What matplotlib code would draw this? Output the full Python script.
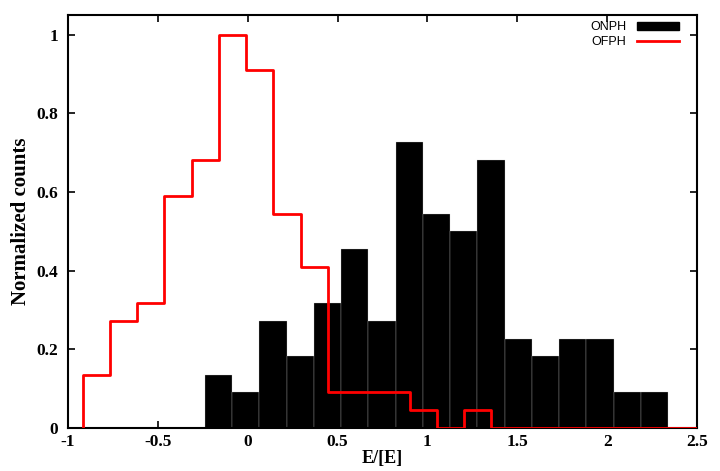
import matplotlib
matplotlib.use("Agg")
import matplotlib.pyplot as plt
import numpy as np
from matplotlib.patches import Patch
from matplotlib.lines import Line2D

# ONPH histogram (filled black bars)
onph_start = -0.238
onph_width = 0.1516
onph_values = [0.136, 0.091, 0.273, 0.182, 0.318, 0.455, 0.273, 0.727, 0.545,
               0.500, 0.682, 0.227, 0.182, 0.227, 0.227, 0.091, 0.091]

# OFPH histogram (red steps)
ofph_start = -0.918
ofph_width = 0.1516
ofph_values = [0.136, 0.273, 0.318, 0.591, 0.682, 1.000, 0.909, 0.545, 0.409,
               0.091, 0.091, 0.091, 0.045, 0.000, 0.045]

xticks = [-1, -0.5, 0, 0.5, 1, 1.5, 2, 2.5]
xticklabels = ["-1", "-0.5", "0", "0.5", "1", "1.5", "2", "2.5"]
yticks = [0, 0.2, 0.4, 0.6, 0.8, 1.0]
yticklabels = ["0", "0.2", "0.4", "0.6", "0.8", "1"]

fig = plt.figure(figsize=(7.2, 4.71), dpi=100)
ax = fig.add_axes([68/720, 1 - 428/471, (697-68)/720, (428-15)/471])

serif = ["Liberation Serif", "DejaVu Serif"]
sans = ["Liberation Sans", "DejaVu Sans"]

on_left = onph_start + onph_width * np.arange(len(onph_values))
ax.bar(on_left, onph_values, width=onph_width, align="edge", color="black",
       edgecolor="#cccccc", linewidth=0.2, zorder=2)

of_edges = ofph_start + ofph_width * np.arange(len(ofph_values) + 1)
xs = np.concatenate([[of_edges[0]], of_edges, [2.5]])
ys = np.concatenate([[0], ofph_values, [0, 0]])
ax.step(xs, ys, where="post", color="red", linewidth=2, zorder=3, clip_on=True)

ax.set_xlim(-1, 2.5)
ax.set_ylim(0, 1.05)
ax.set_xticks(xticks)
ax.set_xticklabels(xticklabels, fontfamily=serif, fontweight="bold", fontsize=12.5)
ax.set_yticks(yticks)
ax.set_yticklabels(yticklabels, fontfamily=serif, fontweight="bold", fontsize=12.5)
ax.tick_params(direction="in", top=True, right=True, length=5, width=1.2)
ax.tick_params(axis="y", pad=7)
ax.tick_params(axis="x", pad=4)
for s in ax.spines.values():
    s.set_linewidth(1.5)

ax.set_xlabel("E/[E]", fontfamily=serif, fontweight="bold", fontsize=13, labelpad=0)
ax.set_ylabel("Normalized counts", fontfamily=serif, fontweight="bold", fontsize=15, labelpad=4)

handles = [Patch(facecolor="black", edgecolor="black"),
           Line2D([0], [0], color="red", linewidth=2)]
leg = ax.legend(handles, ["ONPH", "OFPH"], loc="upper right", markerfirst=False,
                bbox_to_anchor=(0.9714, 0.985), borderaxespad=0, borderpad=0,
                frameon=False, prop={"family": sans, "size": 9},
                handlelength=3.4, handleheight=0.6, labelspacing=0.25,
                handletextpad=0.8)

fig.savefig("out.png", dpi=100)
